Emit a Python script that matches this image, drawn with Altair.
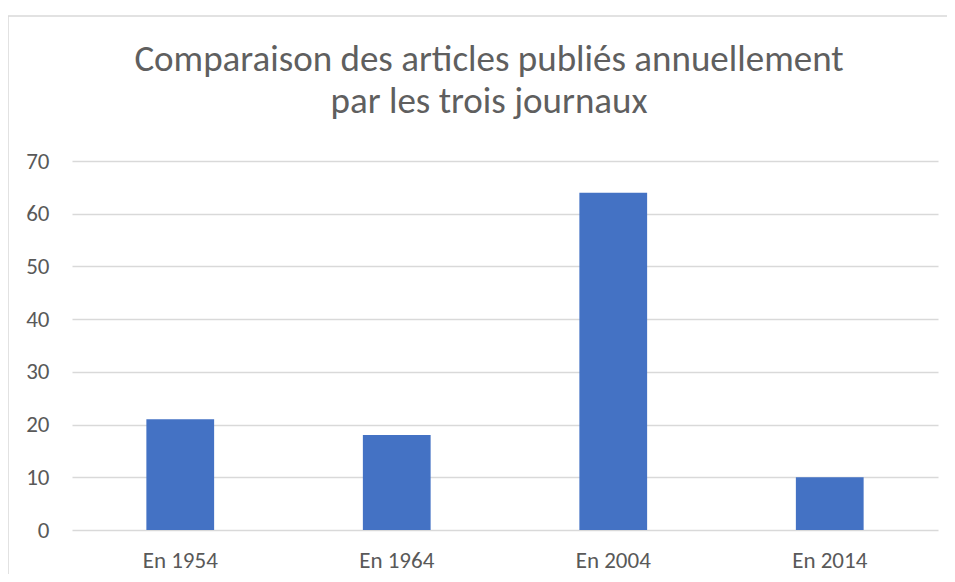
import altair as alt
import pandas as pd

categories = ["En 1954", "En 1964", "En 2004", "En 2014"]
values = [21, 18, 64, 10]
title_lines = ["Comparaison des articles publiés annuellement", "par les trois journaux"]

df = pd.DataFrame({"cat": categories, "val": values})
FONT = "Carlito, Calibri, Open Sans"

bars = alt.Chart(df).mark_bar(color="#4472c4").encode(
    x=alt.X("cat:N", sort=categories, title=None,
            scale=alt.Scale(paddingInner=0.687, paddingOuter=0.3435),
            axis=alt.Axis(labelAngle=0, labelFontSize=23, labelColor="#595959",
                          labelFont=FONT, ticks=False, domain=False, labelPadding=19,
                          grid=False)),
    y=alt.Y("val:Q", title=None,
            scale=alt.Scale(domain=[0, 70]),
            axis=alt.Axis(values=[0, 10, 20, 30, 40, 50, 60, 70], labelFontSize=23,
                          labelColor="#595959", labelFont=FONT, ticks=False,
                          domain=False, labelPadding=23, gridColor="#d9d9d9",
                          gridWidth=1.5)),
)

one = pd.DataFrame({"k": [0]})
left_border = alt.Chart(one).mark_rule(color="#d9d9d9", strokeWidth=1.5).encode(
    x=alt.value(-64), y=alt.value(-145), y2=alt.value(430))
top_border = alt.Chart(one).mark_rule(color="#d9d9d9", strokeWidth=1.5).encode(
    x=alt.value(-64), x2=alt.value(880), y=alt.value(-145))

title1 = alt.Chart(one).mark_text(font=FONT, fontSize=37, color="#5f5f5f",
                                  align="center", baseline="alphabetic").encode(
    x=alt.value(417), y=alt.value(-90), text=alt.value(title_lines[0]))
title2 = alt.Chart(one).mark_text(font=FONT, fontSize=37, color="#5f5f5f",
                                  align="center", baseline="alphabetic").encode(
    x=alt.value(417), y=alt.value(-48), text=alt.value(title_lines[1]))

chart = alt.layer(left_border, top_border, bars, title1, title2).properties(
    width=866, height=369,
    autosize=alt.AutoSizeParams(type="none"),
    padding={"left": 64, "top": 153, "right": 9, "bottom": 44},
).configure_view(stroke=None)

chart.save("out.html", embed_options={"renderer": "svg", "actions": False})
